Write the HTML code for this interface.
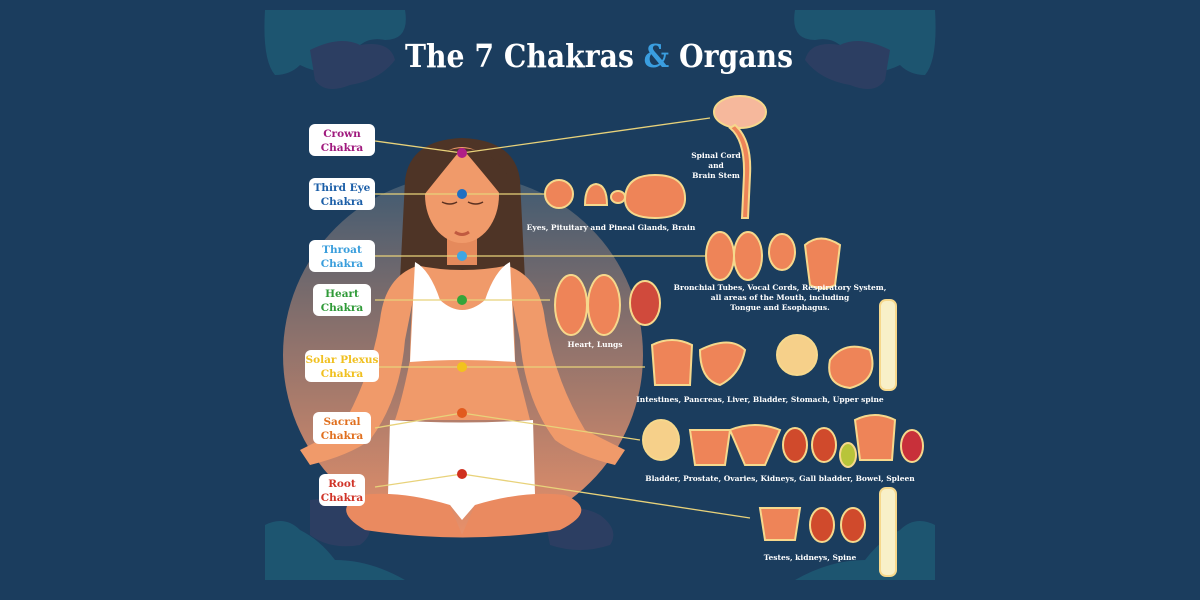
<!DOCTYPE html>
<html><head><meta charset="utf-8"><style>
html,body{margin:0;padding:0;background:#1b3d5e;}
svg{display:block}
text{font-family:"DejaVu Serif","Liberation Serif",serif;font-weight:bold}
</style></head><body>
<svg width="1200" height="600" viewBox="0 0 1200 600" xmlns="http://www.w3.org/2000/svg">
<defs>
<linearGradient id="cg" x1="0" y1="0" x2="0" y2="1">
<stop offset="0" stop-color="#3e5a72"/><stop offset="0.35" stop-color="#7c6c6c"/><stop offset="1" stop-color="#e8906a"/>
</linearGradient>
</defs>
<rect width="1200" height="600" fill="#1b3d5e"/>
<!-- corner clouds -->
<g opacity="0.55">
<path d="M265 10 H405 Q410 40 385 40 Q360 35 350 60 Q330 80 300 65 Q290 75 275 75 Q262 60 265 10Z" fill="#1f6a80"/>
<path d="M310 50 Q340 35 360 45 Q390 40 395 60 Q380 80 350 85 Q325 95 315 80Z" fill="#3a3f66"/>
<path d="M935 10 H795 Q790 40 815 40 Q840 35 850 60 Q870 80 900 65 Q910 75 925 75 Q938 60 935 10Z" fill="#1f6a80"/>
<path d="M890 50 Q860 35 840 45 Q810 40 805 60 Q820 80 850 85 Q875 95 885 80Z" fill="#3a3f66"/>
<path d="M265 580 V525 Q285 515 300 530 Q320 540 335 560 Q370 560 405 580Z" fill="#1f6a80"/>
<path d="M310 500 Q340 495 360 510 Q380 530 360 545 Q330 550 310 535Z" fill="#3a3f66"/>
<path d="M935 580 V525 Q915 515 900 530 Q880 540 865 560 Q830 560 795 580Z" fill="#1f6a80"/>
<path d="M545 520 Q575 500 600 515 Q620 530 610 545 Q580 555 550 545Z" fill="#3a3f66"/>
</g>
<!-- title -->
<text x="405" y="67" textLength="388" lengthAdjust="spacingAndGlyphs" font-size="32" fill="#ffffff">The 7 Chakras <tspan fill="#3a9ee0">&amp;</tspan> Organs</text>
<!-- circle -->
<circle cx="463" cy="355" r="180" fill="url(#cg)"/>
<!-- woman -->
<path d="M405 180 Q410 140 462 138 Q515 140 520 180 L525 280 L400 280Z" fill="#4e3426"/>
<rect x="447" y="225" width="30" height="40" fill="#e58a5c"/>
<ellipse cx="462" cy="195" rx="37" ry="48" fill="#f09a6a"/>
<path d="M415 180 Q430 150 462 148 Q440 175 420 200Z" fill="#4e3426"/>
<path d="M510 180 Q495 150 462 148 Q485 175 505 200Z" fill="#4e3426"/>
<path d="M442 202 q8 4 15 0 M468 202 q8 4 15 0" stroke="#5a3020" stroke-width="1.5" fill="none"/>
<path d="M455 232 q7 5 14 0" stroke="#c05a40" stroke-width="3" fill="none"/>
<!-- arms -->
<path d="M420 265 Q385 275 380 320 Q370 380 340 430 L300 450 L310 465 Q350 455 370 440 Q400 400 405 340Z" fill="#f09a6a"/>
<path d="M505 265 Q540 275 545 320 Q555 380 585 430 L625 450 L615 465 Q575 455 555 440 Q525 400 520 340Z" fill="#f09a6a"/>
<!-- torso -->
<path d="M415 265 Q462 275 510 265 Q515 330 515 360 Q525 400 530 420 L395 420 Q402 400 410 360 Q410 330 415 265Z" fill="#f09a6a"/>
<path d="M415 262 Q430 270 440 300 Q462 320 485 300 Q495 270 510 262 L515 362 Q462 358 410 362Z" fill="#ffffff"/>
<!-- shorts & legs -->
<path d="M390 420 Q462 425 533 420 L535 495 Q500 505 475 505 L462 520 L450 505 Q420 505 388 495Z" fill="#ffffff"/>
<path d="M360 495 Q400 490 450 505 L462 535 L475 505 Q525 490 565 495 Q600 510 560 530 Q463 545 365 530 Q330 510 360 495Z" fill="#ea8a60"/>
<!-- lines -->
<g stroke="#e8d27a" stroke-width="1.3" fill="none">
<path d="M375 141 L462 153 L710 118"/>
<path d="M375 194 L545 194"/>
<path d="M375 256 L705 256"/>
<path d="M375 300 L550 300"/>
<path d="M375 367 L645 367"/>
<path d="M375 428 L462 413 L640 440"/>
<path d="M375 487 L462 474 L750 518"/>
</g>
<!-- dots -->
<circle cx="462" cy="153" r="5" fill="#b01e88"/>
<circle cx="462" cy="194" r="5" fill="#1f6fc2"/>
<circle cx="462" cy="256" r="5" fill="#3ea6e2"/>
<circle cx="462" cy="300" r="5" fill="#34a53a"/>
<circle cx="462" cy="367" r="5" fill="#f2c21e"/>
<circle cx="462" cy="413" r="5" fill="#e25a1e"/>
<circle cx="462" cy="474" r="5" fill="#d0301e"/>
<!-- labels -->
<g font-size="10.5" text-anchor="middle">
<rect x="309" y="124" width="66" height="32" rx="6" fill="#fff"/><text x="342" y="137" fill="#a01a7e">Crown</text><text x="342" y="151" fill="#a01a7e">Chakra</text>
<rect x="309" y="178" width="66" height="32" rx="6" fill="#fff"/><text x="342" y="191" fill="#1c5fa8">Third Eye</text><text x="342" y="205" fill="#1c5fa8">Chakra</text>
<rect x="309" y="240" width="66" height="32" rx="6" fill="#fff"/><text x="342" y="253" fill="#3a9edc">Throat</text><text x="342" y="267" fill="#3a9edc">Chakra</text>
<rect x="313" y="284" width="58" height="32" rx="6" fill="#fff"/><text x="342" y="297" fill="#2f9a38">Heart</text><text x="342" y="311" fill="#2f9a38">Chakra</text>
<rect x="305" y="350" width="74" height="32" rx="6" fill="#fff"/><text x="342" y="363" fill="#f0c020">Solar Plexus</text><text x="342" y="377" fill="#f0c020">Chakra</text>
<rect x="313" y="412" width="58" height="32" rx="6" fill="#fff"/><text x="342" y="425" fill="#e07020">Sacral</text><text x="342" y="439" fill="#e07020">Chakra</text>
<rect x="319" y="474" width="46" height="32" rx="6" fill="#fff"/><text x="342" y="487" fill="#d03428">Root</text><text x="342" y="501" fill="#d03428">Chakra</text>
</g>
<!-- organs -->
<g fill="#ee8458" stroke="#f6d88c" stroke-width="2">
<ellipse cx="740" cy="112" rx="26" ry="16" fill="#f6b89c"/>
<path d="M735 125 Q752 140 750 175 L748 218 L742 218 L744 175 Q745 140 730 128Z"/>
<circle cx="559" cy="194" r="14"/>
<path d="M585 205 Q585 185 596 184 Q607 185 607 205Z"/>
<ellipse cx="618" cy="197" rx="7" ry="6"/>
<path d="M625 200 Q625 175 655 175 Q686 175 685 200 Q684 218 655 218 Q626 218 625 200Z"/>
<ellipse cx="720" cy="256" rx="14" ry="24"/>
<ellipse cx="748" cy="256" rx="14" ry="24"/>
<ellipse cx="782" cy="252" rx="13" ry="18"/>
<path d="M805 245 Q820 232 840 245 Q838 262 835 285 Q822 292 810 285 Q807 262 805 245Z"/>
<ellipse cx="571" cy="305" rx="16" ry="30"/>
<ellipse cx="604" cy="305" rx="16" ry="30"/>
<ellipse cx="645" cy="303" rx="15" ry="22" fill="#d04a3c"/>
<path d="M652 345 Q672 335 692 345 L690 385 L655 385Z"/>
<path d="M700 350 Q730 335 745 350 Q740 375 720 385 Q700 380 700 350Z"/>
<ellipse cx="797" cy="355" rx="20" ry="20" fill="#f6d08a"/>
<path d="M830 360 Q845 340 870 350 Q880 380 850 388 Q825 385 830 360Z"/>
<rect x="880" y="300" width="16" height="90" rx="6" fill="#f8f0c8"/>
<ellipse cx="661" cy="440" rx="18" ry="20" fill="#f6d08a"/>
<path d="M690 430 L730 430 L725 465 L695 465Z"/>
<path d="M730 430 Q755 420 780 430 L765 465 L745 465Z"/>
<ellipse cx="795" cy="445" rx="12" ry="17" fill="#d04a2c"/>
<ellipse cx="824" cy="445" rx="12" ry="17" fill="#d04a2c"/>
<ellipse cx="848" cy="455" rx="8" ry="12" fill="#b8c43a"/>
<path d="M855 420 Q875 410 895 420 L892 460 L860 460Z"/>
<ellipse cx="912" cy="446" rx="11" ry="16" fill="#c8303a"/>
<path d="M760 508 L800 508 L795 540 L765 540Z"/>
<ellipse cx="822" cy="525" rx="12" ry="17" fill="#d04a2c"/>
<ellipse cx="853" cy="525" rx="12" ry="17" fill="#d04a2c"/>
<rect x="880" y="488" width="16" height="88" rx="6" fill="#f8f0c8"/>
</g>
<!-- organ captions -->
<g fill="#ffffff" font-size="7.5" text-anchor="middle">
<text x="716" y="158">Spinal Cord</text><text x="716" y="168">and</text><text x="716" y="178">Brain Stem</text>
<text x="611" y="230">Eyes, Pituitary and Pineal Glands, Brain</text>
<text x="780" y="290">Bronchial Tubes, Vocal Cords, Respiratory System,</text>
<text x="780" y="300">all areas of the Mouth, including</text>
<text x="780" y="310">Tongue and Esophagus.</text>
<text x="595" y="347">Heart, Lungs</text>
<text x="760" y="402">Intestines, Pancreas, Liver, Bladder, Stomach, Upper spine</text>
<text x="780" y="481">Bladder, Prostate, Ovaries, Kidneys, Gall bladder, Bowel, Spleen</text>
<text x="810" y="560">Testes, kidneys, Spine</text>
</g>
</svg>
</body></html>
